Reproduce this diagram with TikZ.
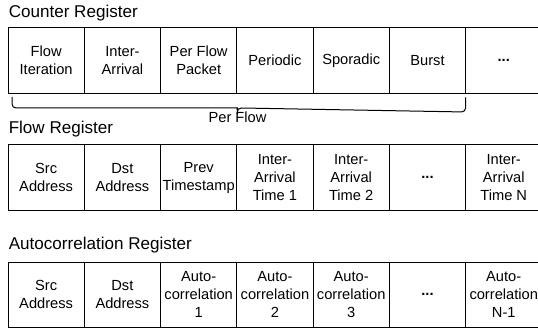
\documentclass[tikz,border=0pt]{standalone}
\usepackage{fontspec}
\setmainfont{Liberation Sans}
\usetikzlibrary{positioning}

\begin{document}
\begin{tikzpicture}[
  x=0.75pt, y=-0.75pt,
  node distance=0pt,
  cell/.style={draw, line width=0.75pt, outer sep=0pt, inner sep=0pt,
               align=center, minimum width=57.2pt, minimum height=49pt,
               font=\fontsize{11}{13.5}\selectfont},
  title/.style={anchor=west, inner sep=0pt, font=\fontsize{12.8}{15}\selectfont},
  brc/.style={line width=0.75pt},
]
\useasboundingbox (0,0) rectangle (538,331);

% ------------------------------------------------------ counter register
\node[title] (cnttitle) at (8.5,13) {Counter Register};

\node[cell, anchor=north west] (iter) at (8,28) {Flow\\Iteration};
\node[cell, right=of iter]  (inter)  {Inter-\\Arrival};
\node[cell, right=of inter] (pkt)    {Per Flow\\Packet};
\node[cell, right=of pkt]   (per)    {Periodic};
\node[cell, right=of per]   (spor)   {Sporadic};
\node[cell, right=of spor]  (burst)  {Burst};
\node[cell, right=of burst] (cntdots) {\textbf{...}};

% brace under the per-flow fields
\coordinate (brl) at (12,97);
\coordinate (brr) at ([yshift=-3pt]burst.south east);
\coordinate (brtip) at (237.5,114);
\draw[brc, rounded corners=3pt] (brl) -- ++(0,11) -- (233.5,108)
  [sharp corners] .. controls (236.5,108) and (237.5,109) .. (brtip)
  .. controls (237.5,109) and (238.5,108) .. (241.5,108)
  [rounded corners=3pt] -- ([yshift=-11]brr) -- (brr);
\node[inner sep=0pt, font=\fontsize{11}{13.5}\selectfont] (perflow) at (237.5,117.5) {Per Flow};

% --------------------------------------------------------- flow register
\node[title] (flowtitle) at (8.5,129) {Flow Register};

\node[cell, anchor=north west] (fsrc) at (8,145) {Src\\Address};
\node[cell, right=of fsrc]  (fdst)   {Dst\\Address};
\node[cell, right=of fdst]  (prev)   {Prev\\Timestamp};
\node[cell, right=of prev]  (iat1)   {Inter-\\Arrival\\Time 1};
\node[cell, right=of iat1]  (iat2)   {Inter-\\Arrival\\Time 2};
\node[cell, right=of iat2]  (fdots)  {\textbf{...}};
\node[cell, right=of fdots] (iatn)   {Inter-\\Arrival\\Time N};

% ---------------------------------------------- autocorrelation register
\node[title] (actitle) at (8.5,245) {Autocorrelation Register};

\node[cell, anchor=north west] (asrc) at (8,262) {Src\\Address};
\node[cell, right=of asrc]  (adst)   {Dst\\Address};
\node[cell, right=of adst]  (ac1)    {Auto-\\correlation\\1};
\node[cell, right=of ac1]   (ac2)    {Auto-\\correlation\\2};
\node[cell, right=of ac2]   (ac3)    {Auto-\\correlation\\3};
\node[cell, right=of ac3]   (adots)  {\textbf{...}};
\node[cell, right=of adots] (acn)    {Auto-\\correlation\\N-1};

\end{tikzpicture}
\end{document}
